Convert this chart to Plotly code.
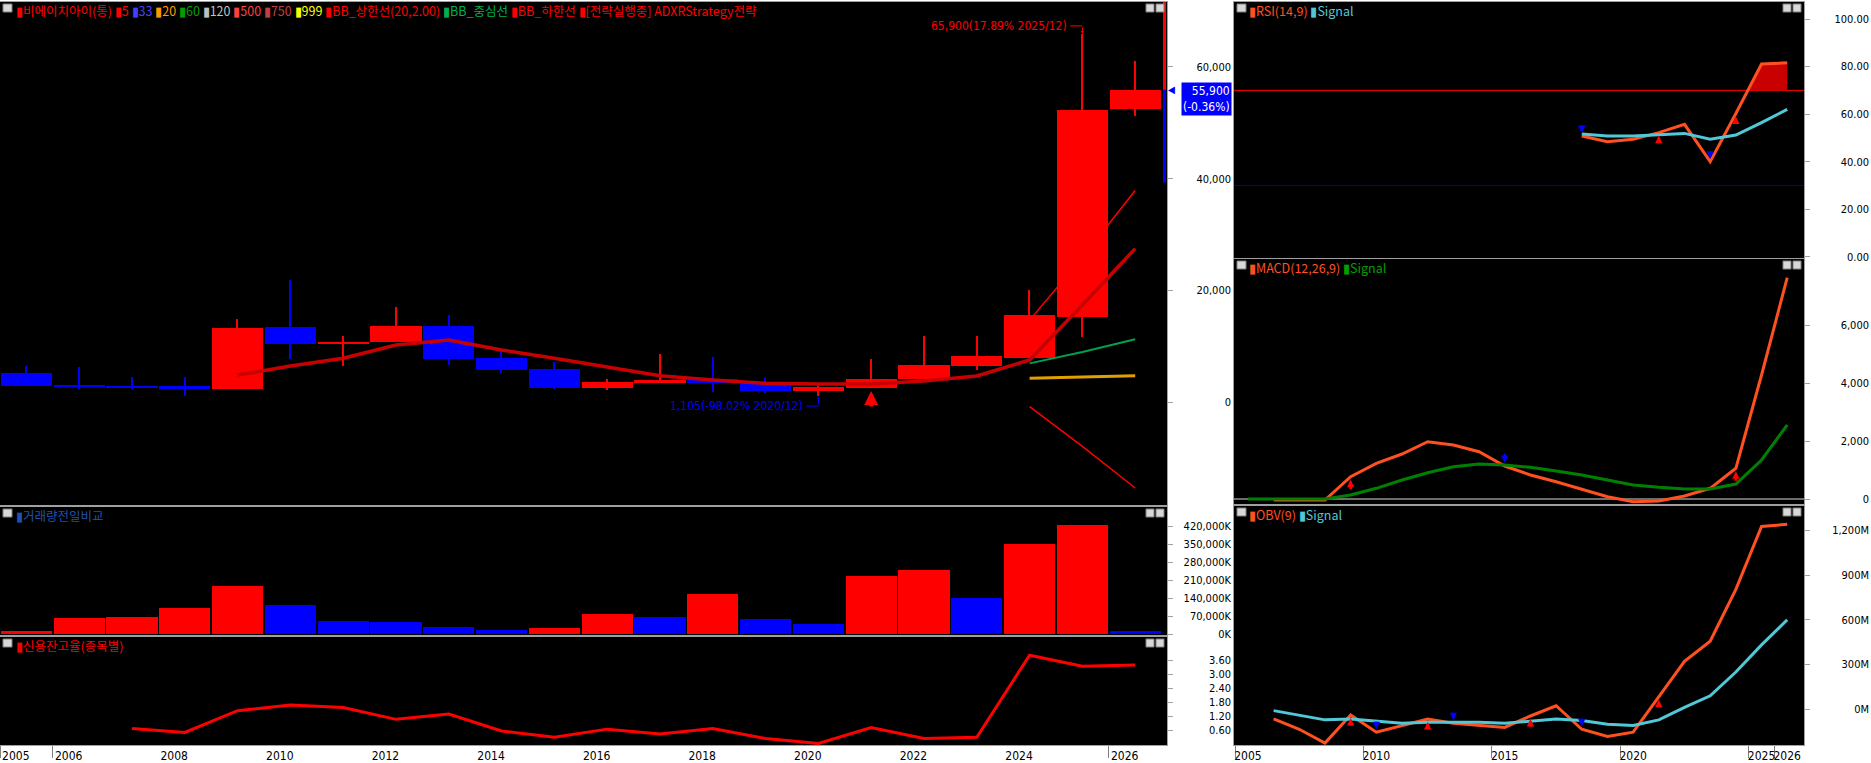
import numpy as np
import plotly.graph_objects as go

W, H = 1871, 763

# yearly candles
years = list(range(2005, 2027))
price_open = [5240, 3100, 2970, 2970, 2380, 13470, 10480, 10840, 13650, 7980, 5950,
              2610, 3510, 4110, 3630, 2020, 2610, 4170, 6500, 7980, 15330, 52520]
price_close = [2970, 2800, 2610, 2380, 13350, 10480, 10840, 13650, 7750, 5830, 2610,
               3630, 3990, 3400, 2020, 2790, 4170, 6670, 8280, 15670, 52290, 55900]
price_high = [6550, 6260, 4530, 4530, 14900, 21800, 11860, 17050, 15600, 9360, 7210,
              4130, 8600, 8050, 4580, 3100, 7750, 11900, 11900, 20100, 65900, 61060]
price_low = [2970, 2330, 2430, 1180, 2380, 7750, 6550, 10840, 6670, 5240, 2430,
             2200, 3510, 1900, 1610, 1105, 2550, 4170, 5780, 7980, 11740, 51270]

ma5_years = list(range(2009, 2027))
ma5 = [4880, 6490, 7870, 10250, 11140, 9360, 7870, 6260, 4760, 3990, 3400, 3270,
       3270, 3810, 4700, 7570, 17400, 27500]
bb_years = [2024, 2025, 2026]
bb_upper = [14700, 25900, 37900]
bb_mid = [6960, 9000, 11270]
bb_lower = [-790, -7900, -15330]
ma20 = [4290, 4500, 4760]

volume_k = [11500, 62000, 66600, 103400, 186100, 112600, 52900, 48300, 29900, 16100, 25300,
            80400, 66600, 156000, 57500, 39100, 227500, 250500, 140200, 351600, 425100, 13000]

credit_years = list(range(2007, 2027))
credit = [0.67, 0.50, 1.43, 1.67, 1.57, 1.06, 1.29, 0.56, 0.29, 0.64, 0.43, 0.67,
          0.24, 0.03, 0.71, 0.24, 0.29, 3.81, 3.34, 3.39]

rsi_years = list(range(2018, 2027))
rsi = [50.8, 48.4, 49.4, 52.2, 55.7, 40.0, 60.3, 81.1, 81.6]
rsi_signal = [51.6, 50.8, 50.8, 51.2, 51.9, 49.4, 51.2, 56.4, 62.0]

macd_years = list(range(2006, 2027))
macd = [-34, -34, -34, 769, 1231, 1552, 1976, 1862, 1631, 1138, 828, 597, 334, 79,
        -93, -69, 103, 369, 1059, 4276, 7631]
macd_sig_years = list(range(2005, 2027))
macd_signal = [0, 0, 0, 0, 138, 369, 655, 907, 1114, 1207, 1172, 1093, 966, 828, 655,
               483, 403, 345, 345, 517, 1345, 2552]

obv_years = list(range(2006, 2027))
obv_m = [-67, -136, -229, -40, -156, -113, -67, -96, -111, -124, -47, 22, -136, -184,
         -156, 82, 320, 456, 804, 1227, 1242]
obv_signal = [-11, -40, -73, -67, -84, -96, -89, -89, -89, -96, -84, -67, -78, -102,
              -111, -73, 11, 89, 249, 431, 600]

# signal arrows
price_buy = [2021]
rsi_buy, rsi_sell = [2021, 2024], [2018, 2023]
macd_buy, macd_sell = [2009, 2024], [2015]
obv_buy, obv_sell = [2009, 2012, 2016, 2021], [2010, 2013, 2018]

high_label = "65,900(17.89% 2025/12)"
low_label = "1,105(-98.02% 2020/12)"
last_label = "55,900<br>(-0.36%)"
last_price = 55900
range_low = 39300

RED, BLUE = "#ff0000", "#0000ff"
GRAY = "#a0a0a0"
TICK_FONT = "DejaVu Sans Condensed, DejaVu Sans, sans-serif"
KR_FONT = "Noto Sans CJK KR, sans-serif"


def px(x):
    return x / W


def fy(y):
    return 1 - y / H


LX = [0, px(1167)]
RX = [px(1234), px(1804)]
LRANGE = [2005, 2005 + 1167 / 52.8]
RRANGE = [2005 - 1.1 / 25.68, 2005 + 568.9 / 25.68]

price_dom, price_rng = [fy(505), fy(2)], [-18372, 71610]
vol_dom, vol_rng = [fy(635), fy(507)], [-3000, 495000]
cred_dom, cred_rng = [fy(745), fy(637)], [-0.04, 4.59]
rsi_dom, rsi_rng = [fy(258), fy(2)], [-0.55, 107.2]
macd_dom, macd_rng = [fy(504), fy(259)], [-172, 8276]
obv_dom, obv_rng = [fy(745), fy(506)], [-242, 1365]

lc = [y + 0.5 for y in years]
up = [c >= o for o, c in zip(price_open, price_close)]
candle_col = [RED if u else BLUE for u in up]
vol_col = [RED if i == 0 or volume_k[i] >= volume_k[i - 1] else BLUE for i in range(len(years))]

fig = go.Figure()

# price panel
fig.add_trace(go.Bar(x=lc, y=[h - l for h, l in zip(price_high, price_low)], base=price_low,
                     width=0.025, marker=dict(color=candle_col, line_width=0), xaxis="x", yaxis="y"))
fig.add_trace(go.Bar(x=lc, y=[abs(c - o) for o, c in zip(price_open, price_close)],
                     base=[min(o, c) for o, c in zip(price_open, price_close)],
                     width=0.97, marker=dict(color=candle_col, line_width=0), xaxis="x", yaxis="y"))
fig.add_trace(go.Scatter(x=[y + 0.5 for y in bb_years], y=ma20, mode="lines",
                         line=dict(color="#e0a000", width=3), xaxis="x", yaxis="y"))
fig.add_trace(go.Scatter(x=[y + 0.5 for y in bb_years], y=bb_mid, mode="lines",
                         line=dict(color="#00a050", width=2), xaxis="x", yaxis="y"))
fig.add_trace(go.Scatter(x=[y + 0.5 for y in bb_years], y=bb_upper, mode="lines",
                         line=dict(color=RED, width=1.5), xaxis="x", yaxis="y"))
fig.add_trace(go.Scatter(x=[y + 0.5 for y in bb_years], y=bb_lower, mode="lines",
                         line=dict(color=RED, width=1.5), xaxis="x", yaxis="y"))
fig.add_trace(go.Scatter(x=[y + 0.5 for y in ma5_years], y=ma5, mode="lines",
                         line=dict(color="#c80000", width=3.5), xaxis="x", yaxis="y"))

# volume
fig.add_trace(go.Bar(x=lc, y=volume_k, width=0.97, marker=dict(color=vol_col, line_width=0),
                     xaxis="x2", yaxis="y2"))

# credit ratio
fig.add_trace(go.Scatter(x=[y + 0.5 for y in credit_years], y=credit, mode="lines",
                         line=dict(color=RED, width=3), xaxis="x3", yaxis="y3"))

# RSI fill above 70
rx = np.array(rsi_years) + 0.5
r = np.array(rsi)
fx, fv = [], []
for i in range(len(r)):
    if i > 0 and (r[i] - 70) * (r[i - 1] - 70) < 0:
        t = (70 - r[i - 1]) / (r[i] - r[i - 1])
        fx.append(rx[i - 1] + t * (rx[i] - rx[i - 1]))
        fv.append(70)
    if r[i] >= 70:
        fx.append(rx[i])
        fv.append(r[i])
fig.add_trace(go.Scatter(x=fx, y=[70] * len(fx), mode="lines", line=dict(width=0),
                         xaxis="x4", yaxis="y4"))
fig.add_trace(go.Scatter(x=fx, y=fv, mode="lines", line=dict(width=0), fill="tonexty",
                         fillcolor="#c80000", xaxis="x4", yaxis="y4"))
fig.add_trace(go.Scatter(x=rx, y=rsi, mode="lines", line=dict(color="#ff5020", width=3),
                         xaxis="x4", yaxis="y4"))
fig.add_trace(go.Scatter(x=rx, y=rsi_signal, mode="lines", line=dict(color="#50c8d8", width=3),
                         xaxis="x4", yaxis="y4"))

# MACD
fig.add_trace(go.Scatter(x=[y + 0.5 for y in macd_years], y=macd, mode="lines",
                         line=dict(color="#ff5020", width=3), xaxis="x5", yaxis="y5"))
fig.add_trace(go.Scatter(x=[y + 0.5 for y in macd_sig_years], y=macd_signal, mode="lines",
                         line=dict(color="#008000", width=3), xaxis="x5", yaxis="y5"))

# OBV
fig.add_trace(go.Scatter(x=[y + 0.5 for y in obv_years], y=obv_m, mode="lines",
                         line=dict(color="#ff5020", width=3), xaxis="x6", yaxis="y6"))
fig.add_trace(go.Scatter(x=[y + 0.5 for y in obv_years], y=obv_signal, mode="lines",
                         line=dict(color="#50c8d8", width=3), xaxis="x6", yaxis="y6"))


def yaxis_main(dom, rng, vals, xa):
    return dict(domain=dom, range=rng, side="right", anchor=xa, showgrid=False, zeroline=False,
                showline=True, linecolor=GRAY, linewidth=1, mirror=True, ticks="outside",
                ticklen=5, tickcolor=GRAY, tickvals=vals, showticklabels=False,
                automargin=False)


def yaxis_label(over, rng, vals, texts, pos):
    return dict(overlaying=over, range=rng, side="left", anchor="free", position=pos,
                showgrid=False, zeroline=False, showline=False, ticks="", tickvals=vals,
                ticktext=texts, automargin=False,
                tickfont=dict(family=TICK_FONT, size=11, color="black"))


def xaxis_cfg(dom, rng, ya, **kw):
    d = dict(domain=dom, range=rng, anchor=ya, showgrid=False, zeroline=False, showline=True,
             linecolor=GRAY, linewidth=1, mirror=True, ticks="", showticklabels=False,
             automargin=False, tickangle=0)
    d.update(kw)
    return d


price_ticks = [0, 20000, 40000, 60000]
vol_ticks = [0, 70000, 140000, 210000, 280000, 350000, 420000]
cred_ticks = [0.6, 1.2, 1.8, 2.4, 3.0, 3.6]
rsi_ticks = [0, 20, 40, 60, 80, 100]
macd_ticks = [0, 2000, 4000, 6000]
obv_ticks = [0, 300, 600, 900, 1200]

left_lbl = [2005, 2006, 2008, 2010, 2012, 2014, 2016, 2018, 2020, 2022, 2024, 2026]
right_lbl = [2005, 2010, 2015, 2020, 2025, 2026]
xfont = dict(family=TICK_FONT, size=12, color="black")

fig.update_layout(
    width=W, height=H, margin=dict(l=0, r=0, t=0, b=0, autoexpand=False),
    paper_bgcolor="white", plot_bgcolor="black", showlegend=False, hovermode=False,
    barmode="overlay", bargap=0,
    xaxis=xaxis_cfg(LX, LRANGE, "y"),
    xaxis2=xaxis_cfg(LX, LRANGE, "y2", matches="x"),
    xaxis3=xaxis_cfg(LX, LRANGE, "y3", matches="x", showticklabels=True,
                     tickvals=[y + 0.3 for y in left_lbl], ticktext=[str(y) for y in left_lbl],
                     tickfont=xfont,
                     minor=dict(tickvals=[2005, 2006, 2026], ticks="outside", ticklen=12,
                                tickcolor="#808080")),
    xaxis4=xaxis_cfg(RX, RRANGE, "y4"),
    xaxis5=xaxis_cfg(RX, RRANGE, "y5", matches="x4"),
    xaxis6=xaxis_cfg(RX, RRANGE, "y6", matches="x4", showticklabels=True,
                     tickvals=[y + 0.5 for y in right_lbl], ticktext=[str(y) for y in right_lbl],
                     tickfont=xfont,
                     minor=dict(tickvals=right_lbl, ticks="outside", ticklen=12,
                                tickcolor="#808080")),
    yaxis=yaxis_main(price_dom, price_rng, price_ticks, "x"),
    yaxis2=yaxis_main(vol_dom, vol_rng, vol_ticks, "x2"),
    yaxis3=yaxis_main(cred_dom, cred_rng, cred_ticks, "x3"),
    yaxis4=yaxis_main(rsi_dom, rsi_rng, rsi_ticks, "x4"),
    yaxis5=yaxis_main(macd_dom, macd_rng, macd_ticks, "x5"),
    yaxis6=yaxis_main(obv_dom, obv_rng, obv_ticks, "x6"),
    yaxis7=yaxis_label("y", price_rng, price_ticks, [f"{v:,}" for v in price_ticks], px(1231)),
    yaxis8=yaxis_label("y2", vol_rng, vol_ticks, [f"{v:,}K" for v in vol_ticks], px(1231)),
    yaxis9=yaxis_label("y3", cred_rng, cred_ticks, [f"{v:.2f}" for v in cred_ticks], px(1231)),
    yaxis10=yaxis_label("y4", rsi_rng, rsi_ticks, [f"{v:.2f}" for v in rsi_ticks], px(1869)),
    yaxis11=yaxis_label("y5", macd_rng, macd_ticks, [f"{v:,}" for v in macd_ticks], px(1869)),
    yaxis12=yaxis_label("y6", obv_rng, obv_ticks, [f"{v:,}M" for v in obv_ticks], px(1869)),
)

# invisible traces so the label axes get drawn
for xa, ya, yv in [("x", "y7", 0), ("x2", "y8", 0), ("x3", "y9", 1), ("x4", "y10", 50),
                   ("x5", "y11", 0), ("x6", "y12", 0)]:
    fig.add_trace(go.Scatter(x=[2010], y=[yv], mode="markers", marker=dict(opacity=0),
                             xaxis=xa, yaxis=ya, hoverinfo="skip"))

shapes = []
annotations = []

# reference lines
shapes.append(dict(type="line", xref="x4 domain", x0=0, x1=1, yref="y4", y0=70, y1=70,
                   line=dict(color=RED, width=1), layer="below"))
shapes.append(dict(type="line", xref="x4 domain", x0=0, x1=1, yref="y4", y0=30, y1=30,
                   line=dict(color="#0000c0", width=1), layer="below"))
shapes.append(dict(type="line", xref="x5 domain", x0=0, x1=1, yref="y5", y0=0, y1=0,
                   line=dict(color="#909090", width=1.5), layer="below"))

# price range bar at right edge
shapes.append(dict(type="rect", xref="paper", x0=px(1163), x1=px(1166), yref="y",
                   y0=last_price, y1=price_rng[1], fillcolor=RED, line_width=0))
shapes.append(dict(type="rect", xref="paper", x0=px(1163), x1=px(1166), yref="y",
                   y0=range_low, y1=last_price, fillcolor=BLUE, line_width=0))

# pixel to price conversion for annotation brackets
ppx = (price_rng[1] - price_rng[0]) / (505 - 2)
xpx = (LRANGE[1] - LRANGE[0]) / 1167

# high / low labels
hi_i = price_high.index(max(price_high))
hx, hv = lc[hi_i], price_high[hi_i]
hy = hv + 8 * ppx
shapes.append(dict(type="line", xref="x", yref="y", x0=hx - 12 * xpx, x1=hx, y0=hy, y1=hy,
                   line=dict(color=RED, width=1)))
annotations.append(dict(x=hx, y=hv, xref="x", yref="y", ax=hx, ay=hy, axref="x", ayref="y",
                        showarrow=True, arrowhead=2, arrowsize=0.6, arrowwidth=1,
                        arrowcolor=RED, text=""))
annotations.append(dict(x=hx - 13 * xpx, y=hy, xref="x", yref="y", xanchor="right",
                        yanchor="middle", text=high_label, showarrow=False,
                        font=dict(family=TICK_FONT, size=12, color=RED)))

lo_i = price_low.index(min(price_low))
lx_, lv = lc[lo_i], price_low[lo_i]
ly = lv - 10 * ppx
shapes.append(dict(type="line", xref="x", yref="y", x0=lx_ - 12 * xpx, x1=lx_, y0=ly, y1=ly,
                   line=dict(color=BLUE, width=1)))
annotations.append(dict(x=lx_, y=lv, xref="x", yref="y", ax=lx_, ay=ly, axref="x", ayref="y",
                        showarrow=True, arrowhead=2, arrowsize=0.6, arrowwidth=1,
                        arrowcolor=BLUE, text=""))
annotations.append(dict(x=lx_ - 13 * xpx, y=ly, xref="x", yref="y", xanchor="right",
                        yanchor="middle", text=low_label, showarrow=False,
                        font=dict(family=TICK_FONT, size=12, color=BLUE)))

# last price box
annotations.append(dict(x=px(1181), y=last_price, xref="paper", yref="y", xanchor="left",
                        yanchor="top", yshift=8, text=last_label, showarrow=False,
                        bgcolor=BLUE, borderpad=1, align="right",
                        font=dict(family=TICK_FONT, size=12, color="white")))
annotations.append(dict(x=px(1166), y=last_price, xref="paper", yref="y", xanchor="left",
                        yanchor="middle", text="◀", showarrow=False,
                        font=dict(family=TICK_FONT, size=10, color=BLUE)))


def arrow(xr, yr, x, y, is_up, length=14, width=2.5, size=0.8, standoff=4):
    return dict(x=x, y=y, xref=xr, yref=yr, ax=0, ay=length if is_up else -length,
                showarrow=True, arrowhead=2, arrowsize=size, arrowwidth=width,
                arrowcolor=RED if is_up else BLUE, standoff=standoff, text="")


for yr in price_buy:
    i = years.index(yr)
    annotations.append(arrow("x", "y", lc[i], price_low[i], True, length=20, width=4,
                             size=0.7, standoff=3))
for yr in rsi_buy + rsi_sell:
    i = rsi_years.index(yr)
    annotations.append(arrow("x4", "y4", yr + 0.5, rsi[i], yr in rsi_buy, length=12, width=2.5,
                             size=0.6, standoff=3))
for yr in macd_buy + macd_sell:
    i = macd_years.index(yr)
    annotations.append(arrow("x5", "y5", yr + 0.5, macd[i], yr in macd_buy, length=14,
                             width=2.5, size=0.6, standoff=3))
for yr in obv_buy + obv_sell:
    i = obv_years.index(yr)
    annotations.append(arrow("x6", "y6", yr + 0.5, obv_m[i], yr in obv_buy, length=12,
                             width=2.5, size=0.6, standoff=3))


# panel legends
def legend(x, y, items):
    txt = " ".join(f'<span style="color:{c}">▮{t}</span>' for t, c in items)
    return dict(x=px(x), y=fy(y), xref="paper", yref="paper", xanchor="left",
                yanchor="middle", text=txt, showarrow=False,
                font=dict(family=KR_FONT, size=12.5))


annotations.append(legend(14, 10, [
    ("비에이치아이(통)", RED), ("5", RED), ("33", "#4040ff"), ("20", "#ff9900"),
    ("60", "#00a000"), ("120", "#c0c0c0"), ("500", "#ff4040"), ("750", "#c04040"),
    ("999", "#ffff00"), ("BB_상한선(20,2.00)", RED), ("BB_중심선", "#00b050"),
    ("BB_하한선", RED), ("[전략실행중] ADXRStrategy전략", RED)]))
annotations.append(legend(14, 515, [("거래량전일비교", "#2050b0")]))
annotations.append(legend(14, 645, [("신용잔고율(종목별)", RED)]))
annotations.append(legend(1247, 10, [("RSI(14,9)", "#ff5020"), ("Signal", "#50c8d8")]))
annotations.append(legend(1247, 268, [("MACD(12,26,9)", "#ff5020"), ("Signal", "#00a000")]))
annotations.append(legend(1247, 514, [("OBV(9)", "#ff5020"), ("Signal", "#50c8d8")]))

# small window icons on each panel
panel_boxes = [(0, 1167, 2), (0, 1167, 507), (0, 1167, 637),
               (1234, 1804, 2), (1234, 1804, 259), (1234, 1804, 506)]
for x0, x1, yt in panel_boxes:
    for a, b in [(x0 + 3, x0 + 12), (x1 - 21, x1 - 13), (x1 - 11, x1 - 3)]:
        shapes.append(dict(type="rect", xref="paper", yref="paper", x0=px(a), x1=px(b),
                           y0=fy(yt + 10), y1=fy(yt + 2), fillcolor="#d8d8d8",
                           line=dict(color="#808080", width=1)))

fig.update_layout(shapes=shapes, annotations=annotations)
# the page body has a default 8px margin; drop it so the figure fills the window
fig.write_html("out.html", config={"displayModeBar": False},
               post_script="document.body.style.margin='0';"
                           "document.body.style.overflow='hidden';")
